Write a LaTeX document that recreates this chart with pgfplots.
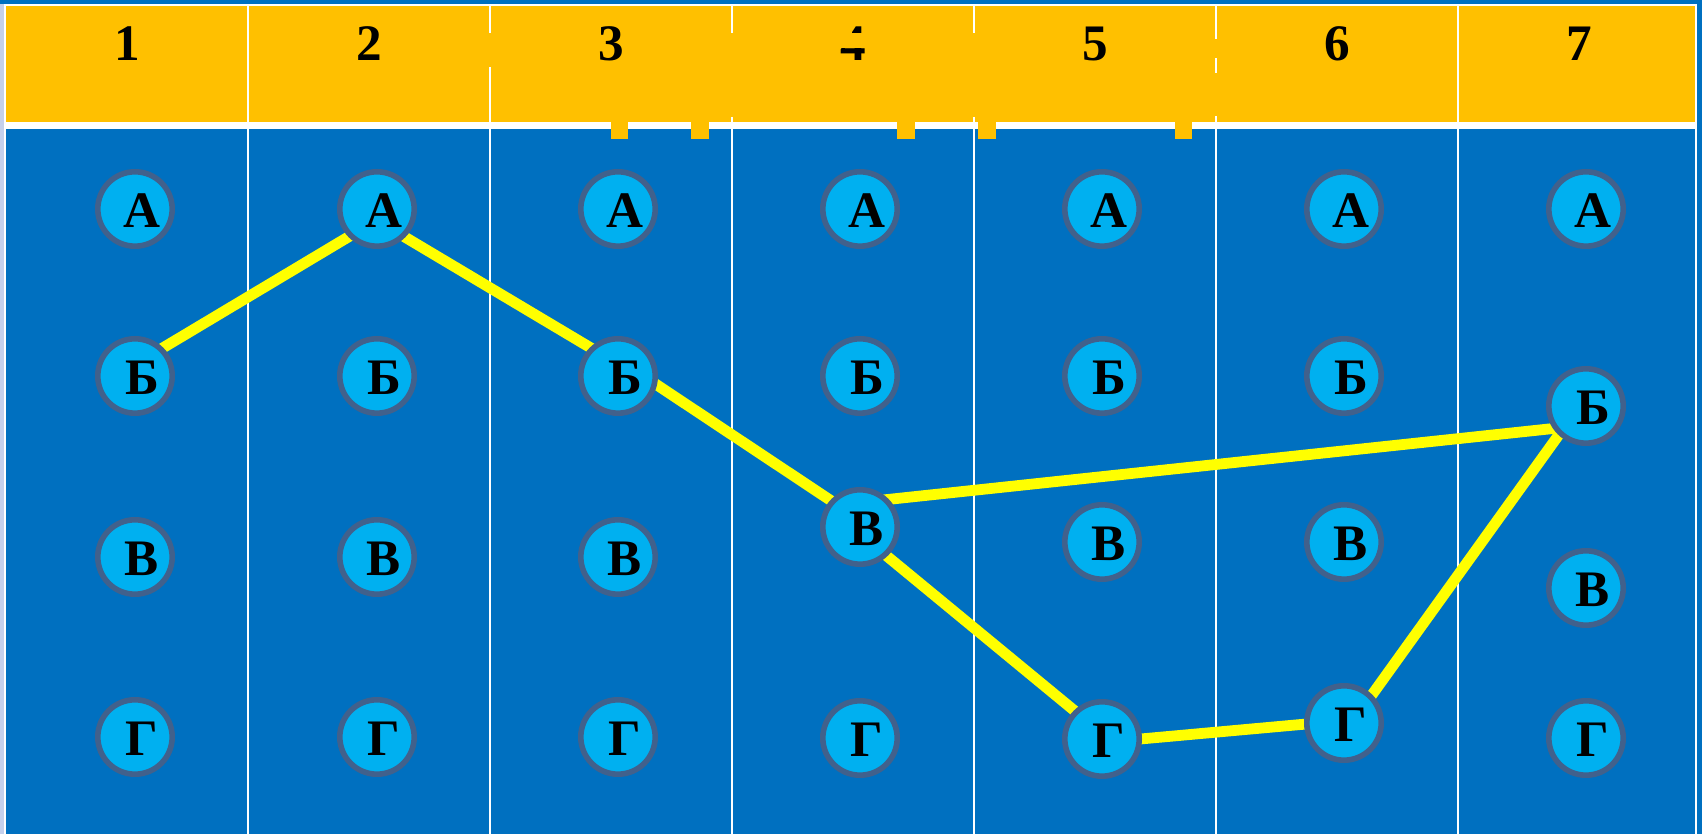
\documentclass[border=0pt]{standalone}
\usepackage{pgfplots}
\pgfplotsset{compat=1.18}
\usepackage{pgfplotstable}
\usepackage{fontspec}
\setmainfont{Liberation Serif}

\definecolor{bodyblue}{HTML}{0070C0}
\definecolor{hdr}{HTML}{FFC000}
\definecolor{cfill}{HTML}{00B0F0}
\definecolor{cedge}{HTML}{41618C}
\definecolor{lav}{HTML}{C5D0EC}
\definecolor{path}{HTML}{FFFF00}

% circles: x y letter (pixel coords, y down)
\pgfplotstableread{
x y l
135 209 А
135 376 Б
135 557 В
135 737 Г
377 209 А
377 376 Б
377 557 В
377 737 Г
618 209 А
618 376 Б
618 557 В
618 737 Г
860 209 А
860 376 Б
860 527 В
860 738 Г
1102 209 А
1102 376 Б
1102 542 В
1102 739 Г
1344 209 А
1344 376 Б
1344 542 В
1344 723 Г
1586 209 А
1586 406 Б
1586 588 В
1586 738 Г
}\circles

\pgfplotstableread{
x y l
127 44 1
369 44 2
611 44 3
853 44 4
1095 44 5
1337 44 6
1579 44 7
}\heads

\begin{document}
\begin{tikzpicture}
\begin{axis}[
  width=425.5pt, height=208.5pt,
  scale only axis,
  hide axis,
  set layers,
  xmin=0, xmax=1702, ymin=0, ymax=834,
  y dir=reverse,
]
% background and frame
\addplot[fill=bodyblue, draw=none] coordinates {(0,0) (1702,0) (1702,834) (0,834)} -- cycle;
\addplot[fill=lav, draw=none] coordinates {(0,4) (4,4) (4,834) (0,834)} -- cycle;
\addplot[white, line width=0.5pt] coordinates {(5,834) (5,5) (1696,5) (1696,834)};
% header
\addplot[fill=hdr, draw=none] coordinates {(6,6.5) (1695,6.5) (1695,122) (6,122)} -- cycle;
\addplot[fill=white, draw=none] coordinates {(6,122) (1695,122) (1695,129) (6,129)} -- cycle;
\addplot[fill=hdr, draw=none] coordinates {(610.5,122) (628,122) (628,139) (610.5,139)} -- cycle;
\addplot[fill=hdr, draw=none] coordinates {(691,122) (709,122) (709,139) (691,139)} -- cycle;
\addplot[fill=hdr, draw=none] coordinates {(897,122) (915,122) (915,139) (897,139)} -- cycle;
\addplot[fill=hdr, draw=none] coordinates {(978,122) (996,122) (996,139) (978,139)} -- cycle;
\addplot[fill=hdr, draw=none] coordinates {(1174.5,122) (1192,122) (1192,139) (1174.5,139)} -- cycle;

% column dividers
\addplot[white, line width=0.5pt] coordinates {(248,6.5) (248,834)};
\addplot[white, line width=0.5pt] coordinates {(490,67) (490,834)};
\addplot[white, line width=0.5pt] coordinates {(490,6.5) (490,33)};
\addplot[white, line width=0.5pt] coordinates {(732,117) (732,834)};
\addplot[white, line width=0.5pt] coordinates {(732,6.5) (732,33)};
\addplot[white, line width=0.5pt] coordinates {(974,117) (974,834)};
\addplot[white, line width=0.5pt] coordinates {(974,6.5) (974,33)};
\addplot[white, line width=0.5pt] coordinates {(1216,116) (1216,834)};
\addplot[white, line width=0.5pt] coordinates {(1216,6.5) (1216,39)};
\addplot[white, line width=0.5pt] coordinates {(1216,58) (1216,73)};
\addplot[white, line width=0.5pt] coordinates {(1458,6.5) (1458,834)};

% the yellow route
\addplot[path, line width=2.7pt] coordinates {(157.7,351) (354.3,233.4)};
\addplot[path, line width=2.7pt] coordinates {(399.7,234) (595.3,350.6)};
\addplot[path, line width=2.7pt] coordinates {(652.8,382.2) (837.2,504.8)};
\addplot[path, line width=2.7pt] coordinates {(883,500) (1560,427.8)};
\addplot[path, line width=2.7pt] coordinates {(884.1,553.8) (1079.9,715.2)};
\addplot[path, line width=2.7pt] coordinates {(1135,739.5) (1312,723.5)};
\addplot[path, line width=2.7pt] coordinates {(1369,699) (1563,429)};

% circles with letters
\addplot[only marks, mark=*, mark size=9.3pt,
  mark options={fill=cfill, draw=cedge, line width=1.4pt},
  point meta=explicit symbolic,
  nodes near coords, nodes near coords align=center,
  every node near coord/.append style={anchor=center, xshift=1.75pt, yshift=-0.5pt,
    text=black, font=\fontsize{12.8}{15}\selectfont\bfseries}]
  table[x=x, y=y, meta=l] {\circles};

% header numbers
\addplot[draw=none, mark=none,
  point meta=explicit symbolic,
  nodes near coords, nodes near coords align=center,
  every node near coord/.append style={anchor=center,
    text=black, font=\fontsize{12.8}{15}\selectfont\bfseries}]
  table[x=x, y=y, meta=l] {\heads};
% the part of the 4 that is hidden in the original
\addplot[on layer=axis foreground, fill=hdr, draw=none] coordinates {(836,33.5) (870,33.5) (870,48.5) (836,48.5)} -- cycle;
\addplot[on layer=axis foreground, fill=hdr, draw=none] coordinates {(836,24) (852,24) (852,33.5) (836,33.5)} -- cycle;
\end{axis}
\end{tikzpicture}
\end{document}
